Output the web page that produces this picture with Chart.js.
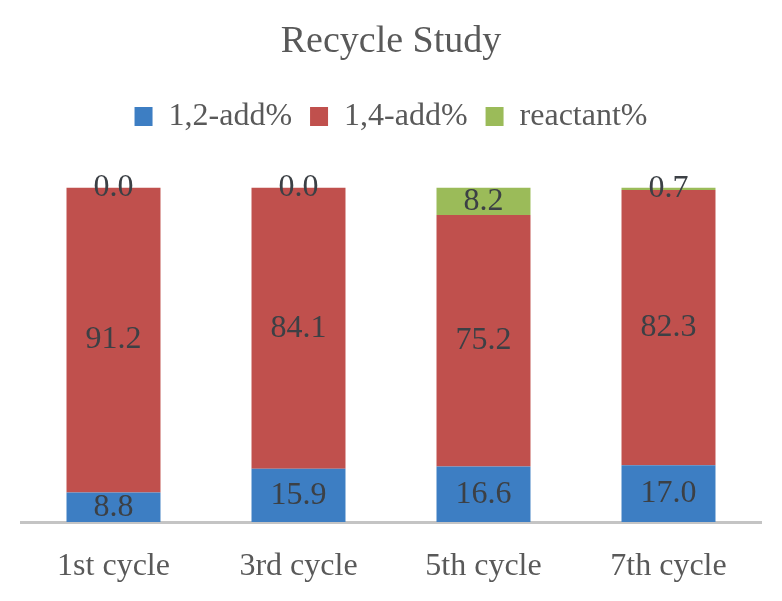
<!DOCTYPE html>
<html>
<head>
<meta charset="utf-8">
<script src="https://cdn.jsdelivr.net/npm/chart.js@4/dist/chart.umd.min.js"></script>
<style>
  html, body { margin: 0; padding: 0; background: #fff; }
  #wrap { width: 782px; height: 601px; position: relative; }
</style>
</head>
<body>
<div id="wrap"><canvas id="chart"></canvas></div>
<script>
/* data */
const cycles = ["1st cycle", "3rd cycle", "5th cycle", "7th cycle"];
const add12 = [8.8, 15.9, 16.6, 17.0];
const add14 = [91.2, 84.1, 75.2, 82.3];
const reactant = [0.0, 0.0, 8.2, 0.7];

const SERIF = "'Liberation Serif', 'Times New Roman', serif";

/* value labels in the middle of each segment */
const valueLabels = {
  id: "valueLabels",
  afterDatasetsDraw(chart) {
    const ctx = chart.ctx;
    ctx.save();
    ctx.font = "32px " + SERIF;
    ctx.fillStyle = "#3c4045";
    ctx.textAlign = "center";
    ctx.textBaseline = "middle";
    chart.data.datasets.forEach((ds, i) => {
      const meta = chart.getDatasetMeta(i);
      meta.data.forEach((bar, j) => {
        const y = (bar.y + bar.base) / 2;
        ctx.fillText(ds.data[j].toFixed(1), bar.x, y);
      });
    });
    ctx.restore();
  }
};

/* extra room under the legend */
const legendGap = {
  id: "legendGap",
  beforeInit(chart) {
    const fit = chart.legend.fit;
    chart.legend.fit = function () {
      fit.bind(this)();
      this.height += 45;
    };
  }
};

new Chart(document.getElementById("chart"), {
  type: "bar",
  data: {
    labels: cycles,
    datasets: [
      { label: "1,2-add%", data: add12, backgroundColor: "#3d7ec3" },
      { label: "1,4-add%", data: add14, backgroundColor: "#c0504d" },
      { label: "reactant%", data: reactant, backgroundColor: "#9bbb59" }
    ]
  },
  options: {
    responsive: true,
    maintainAspectRatio: false,
    animation: false,
    barPercentage: 0.508,
    categoryPercentage: 1,
    layout: { padding: { left: 21, right: 21, bottom: 0 } },
    plugins: {
      title: {
        display: true,
        text: "Recycle Study",
        color: "#595959",
        font: { family: SERIF, size: 38, weight: "normal" },
        padding: { top: 19, bottom: 18 }
      },
      legend: {
        labels: {
          color: "#595959",
          font: { family: SERIF, size: 32 },
          boxWidth: 18,
          boxHeight: 19,
          padding: 18
        }
      },
      tooltip: { enabled: false }
    },
    scales: {
      x: {
        stacked: true,
        grid: { display: false },
        border: { display: true, color: "#c4c4c4", width: 3 },
        ticks: {
          color: "#595959",
          padding: 17,
          font: { family: SERIF, size: 32 }
        },
        afterFit(scale) { scale.height = 79; }
      },
      y: {
        stacked: true,
        display: false,
        min: 0,
        max: 100
      }
    }
  },
  plugins: [valueLabels, legendGap]
});
</script>
</body>
</html>
